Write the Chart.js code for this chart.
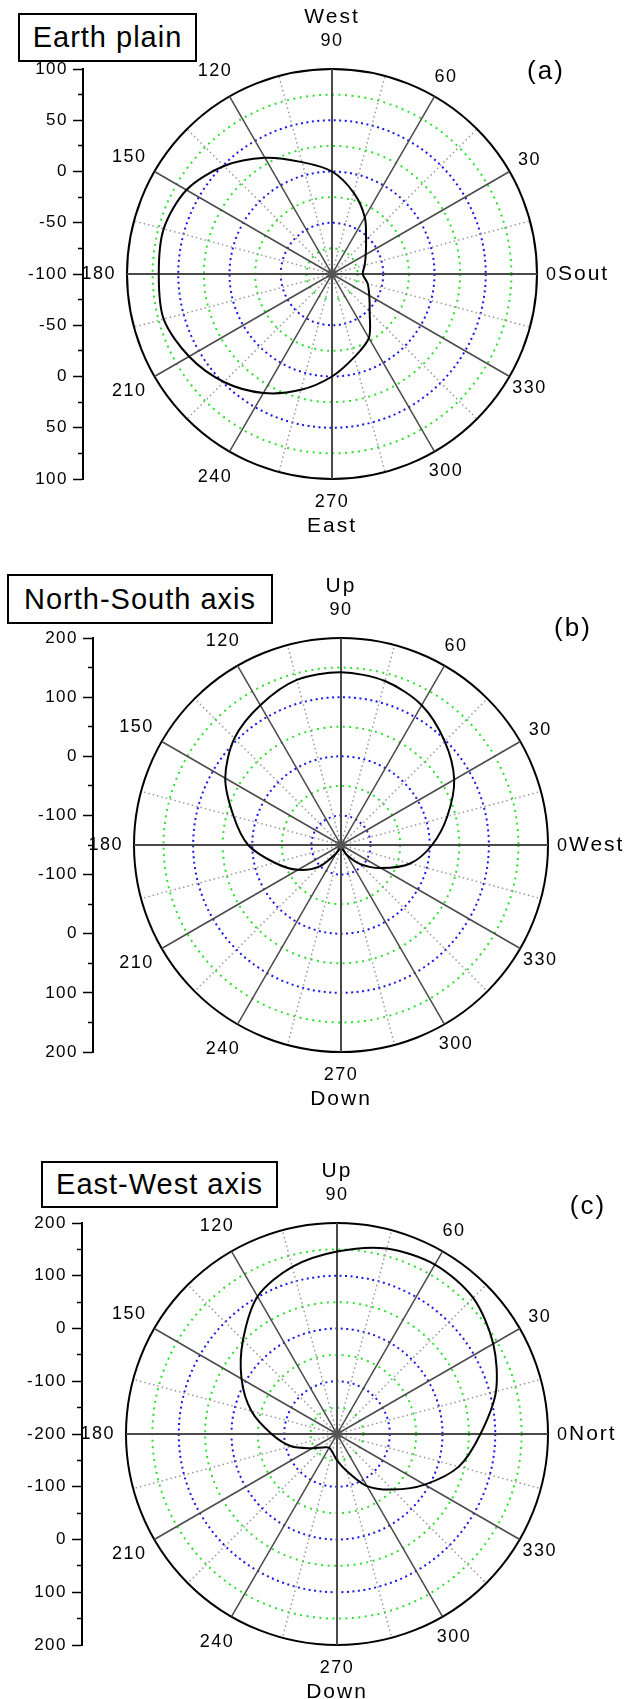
<!DOCTYPE html>
<html>
<head>
<meta charset="utf-8">
<script src="https://cdn.jsdelivr.net/npm/chart.js@4.4.1/dist/chart.umd.min.js"></script>
<style>
  body { margin: 0; background: #fff; }
  #wrap { position: relative; width: 641px; height: 1699px; overflow: hidden; background: #fff;
          font-family: "Liberation Sans", Arial, sans-serif; color: #000; }
  canvas { position: absolute; left: 0; }
  .box { position: absolute; border: 2px solid #000; background: #fff; box-sizing: border-box;
         font-size: 29px; letter-spacing: 1px; display: flex; align-items: center; justify-content: center;
         z-index: 2; white-space: nowrap; }
  .tag { position: absolute; font-size: 26px; letter-spacing: 2px; transform: translate(-50%, -50%);
         z-index: 2; white-space: nowrap; }
</style>
</head>
<body>
<div id="wrap">
  <canvas id="ca" width="641" height="560" style="top:0px"></canvas>
  <canvas id="cb" width="641" height="570" style="top:560px"></canvas>
  <canvas id="cc" width="641" height="569" style="top:1130px"></canvas>
  <div class="box" style="left:18px;top:13px;width:179px;height:49px;">Earth plain</div>
  <div class="box" style="left:7px;top:574px;width:266px;height:50px;">North-South axis</div>
  <div class="box" style="left:41px;top:1161px;width:237px;height:47px;">East-West axis</div>
  <div class="tag" style="left:546px;top:70px;">(a)</div>
  <div class="tag" style="left:573px;top:627px;">(b)</div>
  <div class="tag" style="left:588px;top:1205px;">(c)</div>
</div>
<script>
// Angles (degrees), clockwise from the top of the dial
const angleLabels = ['90','75','60','45','30','15','0','345','330','315','300','285',
                     '270','255','240','225','210','195','180','165','150','135','120','105'];

// (a) Earth plain
const earthValues = [0, -18, -36, -53, -62, -67, -70, -64, -58, -48, -28, -16,
                     0, 17, 34, 49, 61, 70, 69, 70, 64, 49, 31, 13];
// (b) North-South axis
const nsValues = [142, 137, 123, 98, 71, 36, 4, -29, -72, -105, -131, -146,
                  -150, -146, -134, -99, -66, -34, 7, 38, 76, 105, 123, 139];
// (c) East-West axis
const ewValues = [146, 164, 171, 165, 142, 112, 72, 39, -8, -51, -86, -127,
                  -150, -165, -170, -164, -146, -110, -76, -32, 9, 52, 101, 128];

// left-axis tick labels (major ticks, bottom to top)
const ticksA = ['100','50','0','-50','-100','-50','0','50','100'];
const ticksB = ['200','100','0','-100','-100','0','100','200'];
const ticksC = ['200','100','0','-100','-200','-100','0','100','200'];

const sideNames = ['Sout', 'West', 'Nort'];
const upNames = ['West', 'Up', 'Up'];
const downNames = ['East', 'Down', 'Down'];

const FONT = '"Liberation Sans", Arial, sans-serif';

const labelPlugin = {
  id: 'angleLabels',
  beforeDraw(chart) { chart.ctx.letterSpacing = '1.5px'; },
  afterDraw(chart, args, o) {
    const s = chart.scales.r, ctx = chart.ctx, R = s.drawingArea;
    ctx.save();
    // hub where the spokes meet
    ctx.fillStyle = '#555';
    ctx.beginPath();
    ctx.arc(s.xCenter, s.yCenter, 4, 0, Math.PI * 2);
    ctx.fill();
    ctx.fillStyle = '#000';
    ctx.textBaseline = 'middle';
    angleLabels.forEach((lab, i) => {
      const a = Number(lab);
      if (a % 30 !== 0) return;
      ctx.font = '18px ' + FONT;
      ctx.letterSpacing = '1.5px';
      let p;
      if (a === 0) {
        p = s.getPointPosition(i, R + 9);
        ctx.textAlign = 'left';
        ctx.fillText(lab, p.x, p.y + 1);
        const q = s.getPointPosition(i, R + 21);
        ctx.font = '21px ' + FONT; ctx.letterSpacing = '2px';
        ctx.fillText(o.side, q.x, q.y);
      } else if (a === 180) {
        p = s.getPointPosition(i, R + 11);
        ctx.textAlign = 'right';
        ctx.fillText(lab, p.x, p.y);
      } else if (a === 90) {
        p = s.getPointPosition(i, R + 28);
        ctx.textAlign = 'center';
        ctx.fillText(lab, p.x, p.y);
        const q = s.getPointPosition(i, R + 52);
        ctx.font = '21px ' + FONT; ctx.letterSpacing = '2px';
        ctx.fillText(o.up, q.x, q.y);
      } else if (a === 270) {
        p = s.getPointPosition(i, R + 23);
        ctx.textAlign = 'center';
        ctx.fillText(lab, p.x, p.y);
        const q = s.getPointPosition(i, R + 47);
        ctx.font = '21px ' + FONT; ctx.letterSpacing = '2px';
        ctx.fillText(o.down, q.x, q.y);
      } else {
        const right = Math.cos(a * Math.PI / 180) > 0;
        p = s.getPointPosition(i, R + (right ? 23 : 29));
        ctx.textAlign = 'center';
        ctx.fillText(lab, p.x, p.y);
      }
    });
    ctx.restore();
    ctx.letterSpacing = '0px';
  }
};

const panels = [
  { id: 'ca', values: earthValues, ticks: ticksA, rMin: -100, rMax: 100, step: 25, major: 50,
    axisX: 83, cx: 332, cy: 274, R: 205, top: 0, h: 560 },
  { id: 'cb', values: nsValues, ticks: ticksB, rMin: -150, rMax: 200, step: 50, major: 100,
    axisX: 93, cx: 341, cy: 845, R: 207, top: 560, h: 570 },
  { id: 'cc', values: ewValues, ticks: ticksC, rMin: -200, rMax: 200, step: 50, major: 100,
    axisX: 82, cx: 337, cy: 1434, R: 211, top: 1130, h: 569 }
];

const AXIS_W = 80;

panels.forEach((p, k) => {
  const span = p.rMax - p.rMin;
  const areaW = 2 * (p.cx - p.axisX);
  const localCy = p.cy - p.top;
  const pad = {
    left: p.axisX - AXIS_W,
    right: 641 - (p.axisX + areaW),
    top: localCy - p.R,
    bottom: p.h - (localCy + p.R)
  };
  const isMajor = v => Math.abs(v % p.major) < 1e-9;
  new Chart(document.getElementById(p.id), {
    type: 'radar',
    data: {
      labels: angleLabels,
      datasets: [{
        data: p.values,
        borderColor: '#000',
        borderWidth: 2,
        pointRadius: 0,
        pointHoverRadius: 0,
        fill: false,
        tension: 0.3
      }]
    },
    options: {
      responsive: false,
      animation: false,
      events: [],
      layout: { padding: pad, autoPadding: false },
      plugins: {
        legend: { display: false },
        tooltip: { enabled: false },
        angleLabels: { side: sideNames[k], up: upNames[k], down: downNames[k] }
      },
      scales: {
        r: {
          min: p.rMin,
          max: p.rMax,
          beginAtZero: false,
          startAngle: 0,
          ticks: { display: false, stepSize: p.step },
          pointLabels: { display: false },
          grid: {
            circular: true,
            lineWidth: 2,
            color: c => {
              const v = c.tick.value;
              if (v === p.rMax) return '#000';
              return isMajor(v) ? '#1a1ae6' : '#2ee02e';
            }
          },
          border: {
            dash: c => {
              const v = c.tick.value;
              if (v === p.rMax) return [];
              return isMajor(v) ? [2, 3.5] : [2, 4.5];
            }
          },
          angleLines: {
            display: true,
            color: c => {
              const a = Number(angleLabels[c.index]);
              return a % 30 === 0 ? '#4a4a4a' : '#9a9a9a';
            },
            lineWidth: c => {
              const a = Number(angleLabels[c.index]);
              return a % 90 === 0 ? 2 : 1.5;
            },
            borderDash: c => {
              const a = Number(angleLabels[c.index]);
              return a % 30 === 0 ? [] : [1.5, 3];
            }
          }
        },
        y: {
          type: 'linear',
          position: 'left',
          min: -span,
          max: span,
          afterFit: sc => { sc.width = AXIS_W; },
          border: { display: true, color: '#000', width: 2 },
          grid: {
            drawOnChartArea: false,
            drawTicks: true,
            tickLength: 10,
            tickColor: '#000',
            tickWidth: 1.5,
            tickBorderDash: c => (c.index % 2 === 0 ? [] : [5, 5]),
            tickBorderDashOffset: c => (c.index % 2 === 0 ? 0 : 5)
          },
          ticks: {
            stepSize: p.step,
            autoSkip: false,
            padding: 5,
            color: '#000',
            font: { size: 17, family: FONT },
            callback: (value, index) => (index % 2 === 0 ? p.ticks[index / 2] : '')
          }
        }
      }
    },
    plugins: [labelPlugin]
  });
});
</script>
</body>
</html>
